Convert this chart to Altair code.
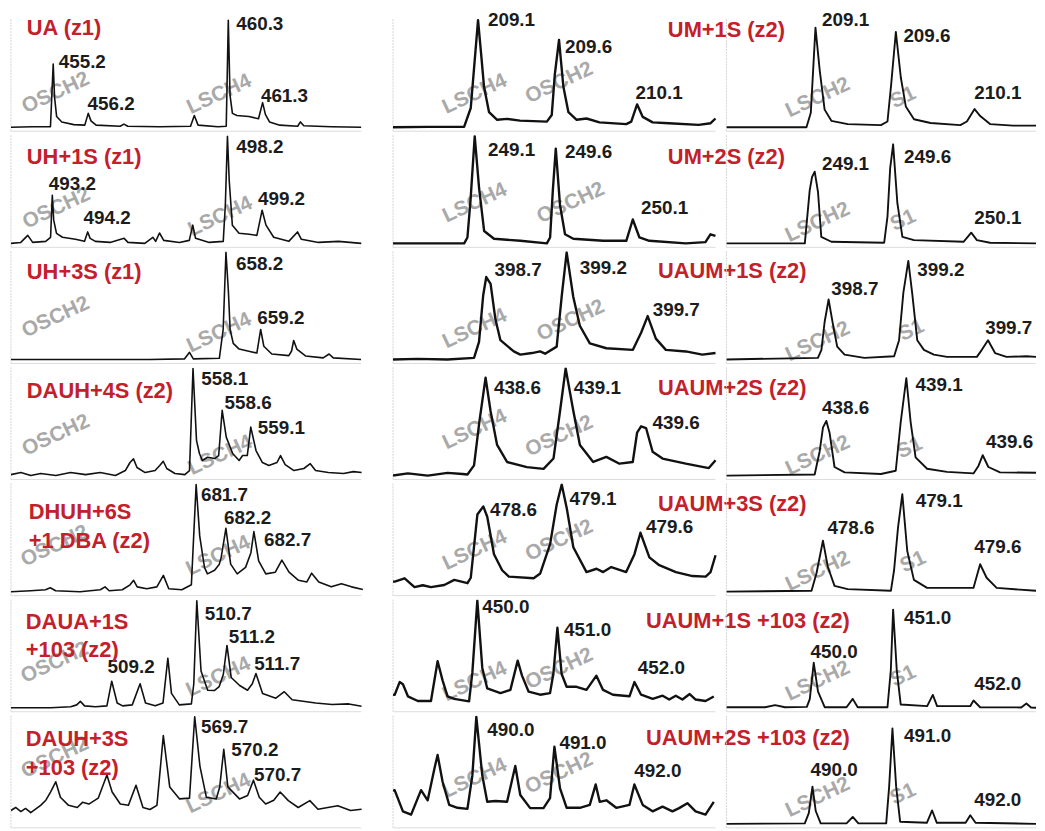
import altair as alt
import pandas as pd

# ---------------- spectra (m/z, relative intensity) ----------------
P11 = [(453.97,0),(454.6,0.5),(455.12,0.5),(455.20,59),(455.24,28),(455.30,10),(455.45,5),(455.8,2.5),(456.12,2),(456.22,13),(456.30,6),(456.45,2),(457.15,1),(457.26,3),(457.37,1),(458.3,0.5),(459.20,1),(459.31,11),(459.42,2),(460.0,0.5),(460.24,1),(460.30,100),(460.35,30),(460.42,13),(460.55,11),(460.9,10),(461.18,8),(461.30,23),(461.38,12),(461.50,5),(461.8,2),(462.32,1),(462.40,5),(462.50,1.5),(463.3,0.5),(464.17,0)]
P21 = [(492.02,0),(492.30,0.9),(492.50,7.5),(492.64,0.9),(493.01,1.9),(493.15,5.7),(493.20,45),(493.24,21.7),(493.32,9.4),(493.49,5.7),(493.86,3.8),(494.12,1.9),(494.21,10.7),(494.28,4.7),(494.43,1.9),(494.85,0.9),(495.25,4.7),(495.36,0.9),(495.84,0),(496.07,5.7),(496.15,1.9),(496.26,9.7),(496.38,2.8),(496.83,0.9),(497.11,2.8),(497.21,17),(497.29,4.7),(497.68,0.9),(498.08,1.9),(498.14,36),(498.20,100),(498.25,59),(498.34,17),(498.53,9.4),(498.82,8.5),(499.04,7.5),(499.19,31),(499.30,17),(499.52,5.7),(499.95,1.9),(500.20,10.7),(500.31,3.8),(500.80,0.9),(501.37,1.9),(502.02,0)]
P31 = [(652.01,0),(656.01,0),(657.01,0.6),(657.15,6.7),(657.26,0.6),(658.01,1.1),(658.12,28),(658.20,100),(658.27,64),(658.32,28),(658.41,15),(658.58,9.7),(658.95,7),(659.09,6),(659.20,28),(659.29,12.4),(659.52,5.1),(660.01,3.6),(660.09,7.9),(660.15,17.7),(660.24,9.7),(660.49,3.3),(661.00,1.5),(661.17,5.1),(661.29,1.5),(662.09,0)]
P41 = [(554.98,0.9),(555.15,2.8),(555.32,0),(555.49,1.9),(555.75,0),(556.0,2.8),(556.26,0.9),(556.51,2.8),(556.77,0),(556.94,4.7),(557.02,12.2),(557.08,15.6),(557.14,7.5),(557.28,2.8),(557.45,4.7),(557.53,9.4),(557.59,13.4),(557.65,6.6),(557.79,1.9),(557.96,0.9),(558.04,4.7),(558.10,100),(558.16,32.8),(558.21,20.6),(558.26,14.1),(558.35,17.1),(558.47,15.9),(558.54,18.7),(558.60,60.9),(558.67,35.9),(558.78,20.6),(558.89,14.1),(558.95,18.7),(559.03,18.7),(559.09,45.3),(559.18,23.4),(559.29,12.2),(559.40,9.4),(559.54,12.2),(559.60,18.7),(559.68,10.3),(559.83,4.7),(560.0,6.6),(560.11,11.1),(560.20,4.7),(560.42,2.8),(560.68,1.9),(560.85,3.7),(560.99,2.8)]
P51 = [(678.59,0),(678.92,0.9),(679.17,1.8),(679.25,3.6),(679.34,0.9),(679.75,0),(680.09,1.8),(680.17,4.5),(680.24,0.9),(680.46,1.8),(680.59,6.4),(680.65,10.6),(680.71,4.5),(680.87,2.7),(681.04,4.5),(681.15,15.2),(681.24,2.7),(681.46,1.8),(681.62,6.4),(681.70,100),(681.76,52.1),(681.84,22.7),(681.89,16.6),(682.01,20),(682.09,25.7),(682.12,31.8),(682.20,59.1),(682.28,25.7),(682.39,16.6),(682.53,22.7),(682.62,36.4),(682.67,56.1),(682.75,28.8),(682.87,16.6),(683.03,18.2),(683.14,29.4),(683.26,18.2),(683.42,10.6),(683.56,9.1),(683.64,17.3),(683.76,9.1),(683.97,4.5),(684.14,7.5),(684.31,4.5),(684.50,2.1)]
P61 = [(507.62,0),(507.95,0),(508.28,0),(508.61,0.9),(508.71,2.7),(508.77,6),(508.84,1.8),(509.02,0.9),(509.21,1.8),(509.29,24.8),(509.38,4.5),(509.47,1.8),(509.63,2.7),(509.76,22.4),(509.85,4.5),(510.01,1.8),(510.14,4.5),(510.22,46.3),(510.28,13.4),(510.41,2.7),(510.61,3.6),(510.65,22.4),(510.70,100),(510.77,34.3),(510.88,16.4),(510.99,16.1),(511.07,19.7),(511.14,31.3),(511.20,58.2),(511.27,28.3),(511.41,20.8),(511.54,16.4),(511.62,22.4),(511.68,32),(511.79,13.4),(512.01,9),(512.15,15),(512.28,7.5),(512.67,4.5),(512.94,3),(513.22,3.6),(513.43,1.5)]
P71 = [(566.54,12.5),(566.62,15.3),(566.71,11.5),(566.79,14.4),(566.88,10.5),(567.05,17.3),(567.14,22.1),(567.22,29.7),(567.31,39.3),(567.39,24.9),(567.53,17.3),(567.68,15.3),(567.77,20.1),(567.88,18.5),(568.04,24),(568.19,45.7),(568.28,29.7),(568.42,18.5),(568.56,17.3),(568.69,36.1),(568.81,15.3),(568.93,13.4),(569.05,17.3),(569.16,82.4),(569.27,34.5),(569.44,23.3),(569.61,24),(569.70,100),(569.79,53.7),(569.90,24.9),(570.07,23.3),(570.13,34.5),(570.20,69.7),(570.27,34.5),(570.47,23.3),(570.61,26.5),(570.71,40.8),(570.81,24.9),(570.92,18.5),(571.06,22.1),(571.17,29.7),(571.31,21.7),(571.48,15.3),(571.68,21.7),(571.82,13.7),(571.99,15.3),(572.16,17),(572.38,12.5),(572.57,13.7)]

P12 = [(208.575,0),(208.79,0.4),(209.014,0.4),(209.055,18),(209.077,58),(209.10,100),(209.120,67),(209.137,37.8),(209.168,14.1),(209.218,7),(209.28,7.9),(209.359,6.2),(209.525,5.3),(209.555,11.4),(209.574,49.3),(209.60,81.6),(209.627,37.8),(209.658,14.1),(209.709,7),(209.77,8.2),(209.85,4.6),(210.015,2.9),(210.046,5.3),(210.082,21.4),(210.117,9.7),(210.178,4.6),(210.278,3.8),(210.462,2.3),(210.536,3.8),(210.566,8.2)]
P22 = [(248.596,0),(249.035,0),(249.055,5.5),(249.074,40),(249.10,100),(249.127,51.5),(249.158,11.6),(249.219,4.3),(249.382,2.4),(249.545,0),(249.565,5.5),(249.582,50),(249.60,88.4),(249.626,35.9),(249.657,8.5),(249.708,4.3),(249.892,2.4),(250.035,2.4),(250.075,22.3),(250.116,5.5),(250.177,2.4),(250.402,0),(250.523,1.2),(250.554,8.5),(250.585,7)]
P32 = [(398.12,0),(398.274,0.6),(398.459,0),(398.624,1.5),(398.655,16.5),(398.681,60),(398.70,77),(398.727,70.6),(398.757,37.5),(398.788,18),(398.871,7.5),(398.912,4.5),(398.984,6),(399.035,7.5),(399.066,5.4),(399.138,12),(399.17,60),(399.20,100),(399.241,58.6),(399.282,31.5),(399.344,15),(399.447,10.5),(399.612,9),(399.663,25),(399.704,40.5),(399.755,19.5),(399.817,9),(399.941,7.5),(400.044,4.5),(400.126,6)]
P42 = [(438.022,0),(438.115,2),(438.239,0),(438.363,2.5),(438.456,1.5),(438.487,1),(438.528,9.5),(438.561,50),(438.60,91.4),(438.631,60.3),(438.672,28.6),(438.734,12.7),(438.858,7.9),(438.962,6.3),(439.024,15.9),(439.065,60.3),(439.10,100),(439.148,60.3),(439.189,28.6),(439.272,12.7),(439.354,17.5),(439.436,11.1),(439.519,12.7),(439.546,40),(439.571,46),(439.602,44.4),(439.643,22.2),(439.705,15.9),(439.850,11.1),(439.994,7),(440.036,14.3)]
P52 = [(478.024,9.4),(478.035,9.4),(478.098,12.5),(478.161,4.3),(478.214,6),(478.266,4.3),(478.351,6.2),(478.415,11),(478.499,7.9),(478.520,13),(478.562,72),(478.60,79.6),(478.625,70),(478.668,35),(478.72,20),(478.763,14),(478.921,12.5),(478.963,17),(479.026,44.5),(479.068,81.4),(479.10,100),(479.132,78),(479.174,41.5),(479.258,18.3),(479.322,21.4),(479.364,18.3),(479.416,23),(479.511,18.3),(479.564,35),(479.602,55),(479.659,32),(479.722,24.7),(479.828,18.3),(479.934,14.6),(480.018,14),(480.049,18.3),(480.081,34)]
P62 = [(448.947,12),(448.968,12.2),(449.030,24),(449.071,22),(449.133,10.7),(449.257,6.3),(449.421,6.3),(449.504,43.5),(449.566,25.6),(449.628,10.7),(449.711,8.3),(449.897,6),(449.938,33),(450.0,100),(450.062,37.2),(450.124,18),(450.289,13.7),(450.413,16.7),(450.504,44),(450.558,30),(450.641,15),(450.784,12.2),(450.908,13.7),(450.950,32),(451.0,74.7),(451.053,31.5),(451.115,19.6),(451.239,19.6),(451.363,16.7),(451.487,30),(451.570,16.7),(451.694,12.2),(451.900,10.7),(451.962,24),(452.045,12.2),(452.190,8.3),(452.314,11.3),(452.396,7.7),(452.478,11.3),(452.561,7.7),(452.652,12.8),(452.726,7.7),(452.850,6.3),(452.953,10.5)]
P72 = [(488.933,31),(488.954,31.5),(489.060,11.7),(489.165,8.6),(489.292,31.5),(489.377,22),(489.463,51.5),(489.504,64.4),(489.568,39.3),(489.653,17.8),(489.759,15),(489.886,14),(489.949,45),(490.0,100),(490.076,45.4),(490.140,20.6),(490.245,21.4),(490.394,20.6),(490.499,54.1),(490.563,27),(490.690,14.7),(490.860,14.7),(490.944,24),(491.0,72),(491.072,33.1),(491.157,15),(491.326,15),(491.453,17.7),(491.529,36.8),(491.580,20.6),(491.665,22),(491.792,15),(491.961,17.7),(492.024,36.8),(492.131,17.7),(492.258,11.7),(492.385,16.1),(492.512,11.7),(492.597,14.7),(492.703,19.3),(492.808,11.7),(492.935,8.6),(493.041,20.6)]

P13 = [(208.546,0),(209.044,0),(209.071,13.5),(209.10,93),(209.127,52.5),(209.157,16.5),(209.199,6),(209.301,3),(209.507,2),(209.548,5.4),(209.571,40),(209.60,89),(209.631,46.5),(209.662,19.5),(209.713,7.5),(209.816,4),(210.001,2),(210.042,5.4),(210.09,17),(210.125,10.5),(210.186,3),(210.330,1.5),(210.472,1.5)]
P23 = [(248.537,0),(249.037,0),(249.068,49.5),(249.083,62),(249.10,67),(249.121,48),(249.142,6),(249.206,1.5),(249.543,0.6),(249.564,25),(249.581,70),(249.60,92.5),(249.627,37.5),(249.659,6),(249.733,3),(250.049,1.5),(250.098,10),(250.134,3),(250.218,0.6),(250.511,0)]
P33 = [(398.059,0),(398.633,1.5),(398.655,9),(398.675,35),(398.70,56),(398.727,33),(398.754,12),(398.80,4.5),(398.924,1.5),(399.111,3),(399.142,18),(399.169,62.5),(399.20,92),(399.225,61),(399.256,18),(399.298,9),(399.360,4.5),(399.443,2.4),(399.630,2.4),(399.661,9),(399.70,18),(399.744,6),(399.816,2.4),(399.941,3),(400.001,2.4)]
P43 = [(437.975,0),(438.527,1),(438.558,22.5),(438.579,45),(438.60,51),(438.620,40),(438.651,8),(438.714,3),(438.941,1.5),(439.034,4.5),(439.065,50),(439.10,91),(439.127,50),(439.158,17),(439.230,6.4),(439.354,3.5),(439.520,2),(439.551,9),(439.578,19),(439.613,8),(439.686,3),(439.911,2.6)]
P53 = [(477.992,0),(478.528,0.8),(478.559,17),(478.60,47.6),(478.631,23),(478.673,5.4),(478.756,2.4),(479.028,0.8),(479.048,20),(479.073,60),(479.10,91),(479.131,38),(479.173,11),(479.256,3.5),(479.548,3.5),(479.59,25.6),(479.631,13),(479.694,3.5),(479.942,0.8)]
P63 = [(448.90,0.5),(449.388,0.5),(449.513,2.5),(449.638,0.5),(449.913,0.8),(449.95,8),(450.0,42),(450.054,15),(450.138,0.5),(450.413,0.5),(450.491,8.3),(450.554,0.5),(450.929,0.5),(450.971,35),(451.0,91.6),(451.046,35),(451.096,3),(451.429,1.5),(451.50,12),(451.554,1.5),(451.971,1.5),(452.013,6.8),(452.096,0.5),(452.613,0.3),(452.679,4),(452.737,0.3),(452.80,0)]
P73 = [(488.924,0),(489.904,0.5),(489.954,10),(490.0,34.8),(490.041,12),(490.103,0.5),(490.426,0.5),(490.504,6.5),(490.574,0.5),(490.922,0.5),(490.959,35),(491.0,89),(491.046,35),(491.096,2),(491.43,1),(491.496,12.5),(491.555,1),(491.915,1),(491.973,8),(492.039,1),(492.795,0)]

# ---------------- peak labels (text, m/z, intensity) ----------------
L11 = [("455.2",455.36,57.7),("456.2",456.20,18.6),("460.3",460.53,94),("461.3",461.25,26.6)]
L21 = [("493.2",493.10,52.8),("494.2",494.09,21.2),("498.2",498.45,87.3),("499.2",499.07,39)]
L31 = [("658.2",658.49,86.4),("659.2",659.10,36.1)]
L41 = [("558.1",558.24,87.4),("558.6",558.64,64.7),("559.1",559.21,41.5)]
L51 = [("681.7",681.78,87.9),("682.2",682.17,65.7),("682.7",682.84,45.5)]
L61 = [("509.2",509.22,35),("510.7",510.83,85),("511.2",511.23,63.6),("511.7",511.65,38.5)]
L71 = [("569.7",569.81,88),("570.2",570.33,66.4),("570.7",570.72,42.5)]
L12 = [("209.1",209.161,97),("209.6",209.637,72),("210.1",210.072,29.5)]
L22 = [("249.1",249.182,84.7),("249.6",249.657,82.6),("250.1",250.126,30.2)]
L32 = [("398.7",398.751,81),("399.2",399.282,82.5),("399.7",399.735,43.5)]
L42 = [("438.6",438.652,79),("439.1",439.151,79),("439.6",439.643,46)]
L52 = [("478.6",478.642,73.5),("479.1",479.149,84),("479.6",479.638,58)]
L62 = [("450.0",450.062,91.3),("451.0",451.082,69.6),("452.0",452.004,34.2)]
L72 = [("490.0",490.140,85),("491.0",491.064,72.4),("492.0",492.024,47)]
L13 = [("209.1",209.141,97),("209.6",209.647,82),("210.1",210.088,29.5)]
L23 = [("249.1",249.146,71),("249.6",249.670,78),("250.1",250.117,20.7)]
L33 = [("398.7",398.717,63.4),("399.2",399.256,80.6),("399.7",399.682,26.5)]
L43 = [("438.6",438.573,60.4),("439.1",439.158,81.8),("439.6",439.599,28.9)]
L53 = [("478.6",478.628,56.7),("479.1",479.184,81.7),("479.6",479.553,39.1)]
L63 = [("450.0",449.959,49.5),("451.0",451.138,81),("452.0",452.021,19.7)]
L73 = [("490.0",489.975,47.5),("491.0",491.145,79),("492.0",492.022,19.6)]

# ---------------- grey site tags (text, m/z, intensity) ----------------
W11 = [("OSCH2",455.30,30.4),("LSCH4",460.06,29)]
W21 = [("OSCH2",493.34,31),("LSCH4",498.02,23.3)]
W31 = [("OSCH2",653.32,37.7),("LSCH4",658.03,23.2)]
W41 = [("OSCH2",555.765,35.9),("LSCH4",558.583,17.2)]
W51 = [("OSCH2",679.338,40.9),("LSCH4",682.088,31.8)]
W61 = [("OSCH2",508.36,40.3),("LSCH4",511.073,26.9)]
W71 = [("OSCH2",567.311,60.1),("LSCH4",570.127,26.6)]
W12 = [("LSCH4",209.085,29.3),("OSCH2",209.606,39.8)]
W22 = [("LSCH4",249.106,36),("OSCH2",249.698,36)]
W32 = [("LSCH4",398.634,27),("OSCH2",399.231,34.5)]
W42 = [("LSCH4",438.538,41.2),("OSCH2",439.065,35)]
W52 = [("LSCH4",478.551,36.9),("OSCH2",479.089,46)]
W62 = [("LSCH4",449.979,22.6),("OSCH2",451.032,34.6)]
W72 = [("LSCH4",489.991,40.8),("OSCH2",491.071,45.4)]
W13 = [("LSCH2",209.12,26),("S1",209.651,26)]
W23 = [("LSCH2",249.125,18),("S1",249.670,19.6)]
W33 = [("LSCH2",398.638,15),("S1",399.225,25.3)]
W43 = [("LSCH2",438.552,16.9),("S1",439.127,24)]
W53 = [("LSCH2",478.573,17.2),("S1",479.173,26)]
W63 = [("LSCH2",450.063,23.2),("S1",451.138,27.7)]
W73 = [("LSCH2",490.078,23),("S1",491.144,26)]

# ---------------- m/z windows (col 1 and col 2 windows include the blank gutter) ----------------
D1 = [(453.97,464.982),(492.02,502.813),(652.01,662.896),(554.98,561.460),(678.59,684.940),(507.62,513.886),(566.54,573.042)]
D2 = [(208.575,210.609),(248.596,250.628),(398.120,400.169),(438.022,440.079),(478.024,480.125),(448.947,453.061),(488.933,493.152)]
D3 = [(208.546,210.472),(248.537,250.511),(398.059,400.001),(437.975,439.911),(477.992,479.942),(448.90,452.80),(488.924,492.795)]

# ---------------- titles ----------------
TITLES_LEFT = [["UA (z1)"],["UH+1S (z1)"],["UH+3S (z1)"],["DAUH+4S (z2)"],["DHUH+6S","+1 DBA (z2)"],["DAUA+1S","+103 (z2)"],["DAUH+3S","+103 (z2)"]]
TITLES_RIGHT = [["UM+1S (z2)"],["UM+2S (z2)"],["UAUM+1S (z2)"],["UAUM+2S (z2)"],["UAUM+3S (z2)"],["UAUM+1S +103 (z2)"],["UAUM+2S +103 (z2)"]]

# ---------------- styling / layout ----------------
FONT = "Liberation Sans"
RED = "#c3202b"
H = 113
GAP = 4
YDOM = [-3.7, 101]
W_COL = [381, 332, 312]      # cell widths (cols 1-2 include the blank gutter)
SEP_COL = [353, 325, 312]    # length of the faint bottom rule
SW_COL = [1.6, 2.4, 1.9]
TL_POS = [(16, 9), (16, 22), (16, 20.5), (16, 23.5), (18, 29), (15, 22.3), (15, 23.7)]
TR_POS = [(277, 11), (277, 22), (267, 20), (267, 21), (267, 21), (255, 22), (255, 23)]


def panel(points, dom, labels, tags, width, sep, sw, title_lines=None, tpos=None):
    X_ = lambda: alt.X("mz:Q", scale=alt.Scale(domain=list(dom), nice=False, zero=False), axis=None)
    Y_ = lambda: alt.Y("I:Q", scale=alt.Scale(domain=YDOM, nice=False, zero=False), axis=None)
    one = pd.DataFrame({"k": [0]})
    left = alt.Chart(one).mark_rule(color="#d4d4d4", strokeWidth=1, strokeDash=[2, 1]).encode(
        x=alt.value(0), y=alt.value(0), y2=alt.value(H))
    bottom = alt.Chart(one).mark_rule(color="#dcdcdc", strokeWidth=1).encode(
        x=alt.value(0), x2=alt.value(sep), y=alt.value(H))
    tag = alt.Chart(pd.DataFrame(tags, columns=["t", "mz", "I"])).mark_text(
        font=FONT, fontSize=21, fontWeight="bold", color="#a9a9a9", angle=335,
        align="center", baseline="middle", dy=-2).encode(x=X_(), y=Y_(), text="t:N")
    line = alt.Chart(pd.DataFrame(points, columns=["mz", "I"])).mark_line(
        color="#111111", strokeWidth=sw, clip=True, strokeJoin="round").encode(x=X_(), y=Y_())
    lab = alt.Chart(pd.DataFrame(labels, columns=["t", "mz", "I"])).mark_text(
        font=FONT, fontSize=19, fontWeight="bold", color="#1c1c1c",
        align="left", baseline="middle", dy=-3).encode(x=X_(), y=Y_(), text="t:N")
    layers = [left, bottom, tag, line, lab]
    if title_lines:
        for i, tl in enumerate(title_lines):
            layers.append(alt.Chart(pd.DataFrame({"t": [tl]})).mark_text(
                font=FONT, fontSize=22, fontWeight="bold", color=RED,
                align="left", baseline="middle").encode(
                text="t:N", x=alt.value(tpos[0]), y=alt.value(tpos[1] + i * 29)))
    return alt.layer(*layers).properties(width=width, height=H)


P1 = [P11, P21, P31, P41, P51, P61, P71]
P2 = [P12, P22, P32, P42, P52, P62, P72]
P3 = [P13, P23, P33, P43, P53, P63, P73]
L1 = [L11, L21, L31, L41, L51, L61, L71]
L2 = [L12, L22, L32, L42, L52, L62, L72]
L3 = [L13, L23, L33, L43, L53, L63, L73]
W1 = [W11, W21, W31, W41, W51, W61, W71]
W2 = [W12, W22, W32, W42, W52, W62, W72]
W3 = [W13, W23, W33, W43, W53, W63, W73]

cells = []
for i in range(7):
    cells.append(panel(P1[i], D1[i], L1[i], W1[i], W_COL[0], SEP_COL[0], SW_COL[0], TITLES_LEFT[i], TL_POS[i]))
    cells.append(panel(P2[i], D2[i], L2[i], W2[i], W_COL[1], SEP_COL[1], SW_COL[1], TITLES_RIGHT[i], TR_POS[i]))
    cells.append(panel(P3[i], D3[i], L3[i], W3[i], W_COL[2], SEP_COL[2], SW_COL[2]))

chart = alt.concat(*cells, columns=3, spacing=GAP, bounds="flush").properties(
    padding={"left": 2, "top": 0, "right": 0, "bottom": 0}
).configure_view(strokeWidth=0)

chart.save("out.html", embed_options={"renderer": "svg", "actions": False})
